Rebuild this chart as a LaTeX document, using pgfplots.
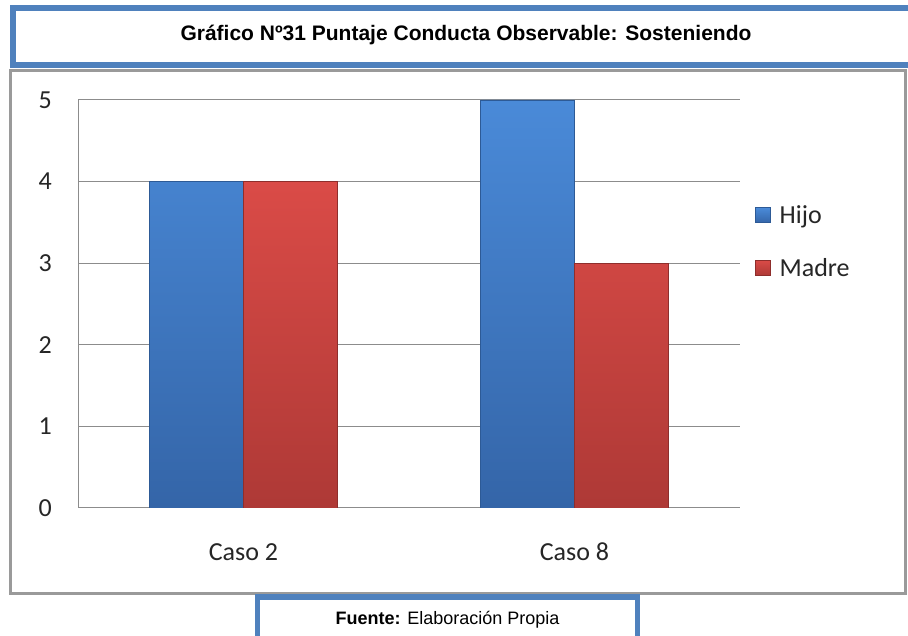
\documentclass[border=0pt]{standalone}
\usepackage{fontspec}
\setmainfont{Carlito}
\newfontfamily\arialfont{Liberation Sans}
\usepackage{pgfplots}
\pgfplotsset{compat=1.18}
\definecolor{tblue}{HTML}{4F81BD}
\definecolor{cgray}{HTML}{9A9A9A}
\definecolor{gridgray}{HTML}{8C8C8C}
\definecolor{btop}{HTML}{4A8AD8}
\definecolor{bbot}{HTML}{3465A8}
\definecolor{bedge}{HTML}{2D5A96}
\definecolor{rtop}{HTML}{DA4B47}
\definecolor{rbot}{HTML}{AE3936}
\definecolor{redge}{HTML}{8E2E2C}
\definecolor{txt}{HTML}{262626}
\begin{document}
\begin{tikzpicture}[x=1pt,y=1pt]
\useasboundingbox (0,0) rectangle (908,636);
\clip (0,0) rectangle (908,636);
\fill[white] (0,0) rectangle (908,636);
% title box
\draw[tblue, line width=5.5pt, fill=white] (13,571) rectangle (940,628);
\node[anchor=base, inner sep=0pt, font=\arialfont\bfseries\fontsize{21}{24}\selectfont] at (466,595) {Gráfico Nº31 Puntaje Conducta Observable: Sosteniendo};
% chart area border
\draw[cgray, line width=2.5pt] (10.5,42.5) rectangle (905.5,565.5);
\begin{axis}[
  at={(78pt,128pt)}, anchor=south west,
  scale only axis, width=662pt, height=408pt,
  xmin=-0.5, xmax=1.5, ymin=0, ymax=5,
  xtick={0,1}, xticklabels={Caso 2, Caso 8},
  ytick={0,1,2,3,4,5},
  ymajorgrids, grid style={gridgray, line width=1pt},
  axis x line*=bottom, axis y line*=left,
  axis line style={-, gridgray, line width=1pt},
  major tick length=0pt,
  /pgf/number format/assume math mode=true,
  tick label style={font=\fontsize{26}{30}\selectfont, text=txt},
  yticklabel style={anchor=east, inner sep=0pt, xshift=-26pt},
  xticklabel style={anchor=north, inner sep=0pt, yshift=-35pt},
  ybar=0pt, bar width=94pt,
  legend style={at={(axis description cs:1.0227,0.653)}, anchor=west,
    draw=none, fill=none, inner sep=0pt, outer sep=0pt,
    font=\fontsize{26}{30}\selectfont, text=txt,
    nodes={inner sep=0pt}, column sep=9pt, row sep=33pt},
  legend cell align=left,
  legend image code/.code={\draw[#1] (0pt,-7.5pt) rectangle (15pt,7.5pt);},
]
\addplot[top color=btop, bottom color=bbot, draw=bedge, line width=0.6pt] coordinates {(0,4) (1,5)};
\addplot[top color=rtop, bottom color=rbot, draw=redge, line width=0.6pt] coordinates {(0,4) (1,3)};
\legend{Hijo, Madre}
\end{axis}
% fuente box
\draw[tblue, line width=5.5pt, fill=white] (257.5,-20) rectangle (637.5,39);
\node[anchor=base, inner sep=0pt, font=\arialfont\fontsize{18}{21}\selectfont] at (447.5,11) {\textbf{Fuente:} Elaboración Propia};
\end{tikzpicture}
\end{document}
